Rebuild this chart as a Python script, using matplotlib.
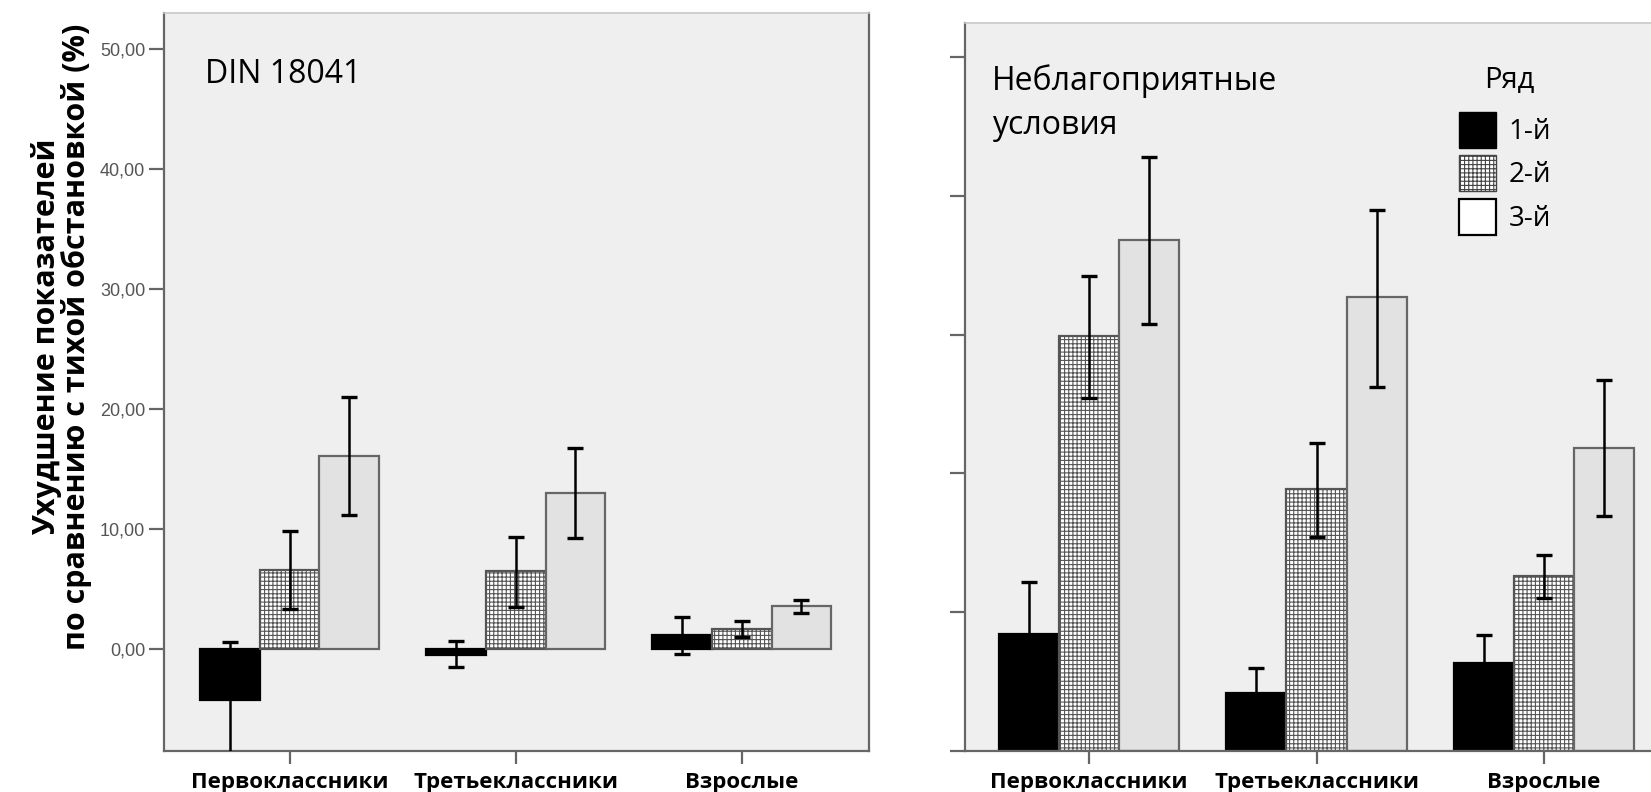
import numpy as np
import matplotlib
matplotlib.use("Agg")
import matplotlib.pyplot as plt
from matplotlib.patches import Patch

plt.rcParams['font.family'] = ['Open Sans', 'DejaVu Sans']
plt.rcParams['hatch.linewidth'] = 0.8
plt.rcParams['hatch.color'] = '#2a2a2a'

groups = ['Первоклассники', 'Третьеклассники', 'Взрослые']
series = ['1-й', '2-й', '3-й']

# левая панель: DIN 18041 (среднее, нижняя и верхняя граница)
din_mean = [[-4.2, -0.45, 1.2], [6.6, 6.5, 1.7], [16.1, 13.05, 3.65]]
din_low = [[-12.0, -1.5, -0.35], [3.35, 3.5, 1.0], [11.2, 9.25, 3.05]]
din_high = [[0.65, 0.7, 2.7], [9.9, 9.4, 2.35], [21.0, 16.75, 4.15]]

# правая панель: неблагоприятные условия
bad_mean = [[8.4, 4.15, 6.3], [29.9, 18.9, 12.6], [36.8, 32.7, 21.8]]
bad_low = [[4.6, 2.3, 4.3], [25.4, 15.4, 11.0], [30.8, 26.2, 16.9]]
bad_high = [[12.2, 5.95, 8.35], [34.2, 22.2, 14.1], [42.8, 39.0, 26.7]]

yticks_left = [0, 10, 20, 30, 40, 50]
yticks_right = [0, 10, 20, 30, 40, 50]

faces = ['black', 'white', '#e2e2e2']
edges = ['black', '#555555', '#666666']
hatches = [None, '++++', None]
w = 0.264

fig = plt.figure(figsize=(16.51, 7.92), dpi=100)
ax1 = fig.add_axes([164 / 1651, 1 - 750.7 / 792, (868.7 - 164) / 1651, (750.7 - 13.3) / 792])
ax2 = fig.add_axes([965 / 1651, 1 - 750.7 / 792, (1651 - 965) / 1651, (750.7 - 22.7) / 792])


def draw(ax, mean, low, high):
    x = np.arange(len(groups))
    for i in range(3):
        m = np.array(mean[i])
        err = np.array([m - np.array(low[i]), np.array(high[i]) - m])
        ax.bar(x + (i - 1) * w, m, w, color=faces[i], edgecolor=edges[i],
               linewidth=1.6, hatch=hatches[i], zorder=2)
        ax.errorbar(x + (i - 1) * w, m, yerr=err, fmt='none', ecolor='black',
                    elinewidth=1.8, capsize=5.5, capthick=2.4, zorder=3)
    ax.set_xticks(x)
    ax.set_xticklabels(groups, fontsize=16, fontweight='bold')
    ax.set_facecolor('#efefef')
    for s in ['left', 'bottom', 'right']:
        ax.spines[s].set_color('#666666')
        ax.spines[s].set_linewidth(1.6)
    ax.spines['top'].set_color('#c8c8c8')
    ax.spines['top'].set_linewidth(1.2)
    ax.tick_params(axis='both', length=10.5, width=1.6, color='#666666', pad=3)
    ax.tick_params(axis='x', length=9, pad=6)


draw(ax1, din_mean, din_low, din_high)
ax1.set_xlim(-0.556, 2.562)
ax1.set_ylim(-8.45, 53.0)
ax1.set_yticks(yticks_left)
ax1.set_yticklabels([f'{v:.2f}'.replace('.', ',') for v in yticks_left],
                    fontsize=13, color='#555555', family='Liberation Sans')
ax1.set_ylabel('Ухудшение показателей\nпо сравнению с тихой обстановкой (%)',
               fontsize=22, fontweight='bold', linespacing=0.95, labelpad=6)
ax1.yaxis.label.set_y(0.561)
ax1.text(0.058, 0.917, 'DIN 18041', transform=ax1.transAxes, fontsize=23,
         va='center', ha='left')

draw(ax2, bad_mean, bad_low, bad_high)
ax2.set_xlim(-0.545, 2.47)
ax2.set_ylim(0, 52.5)
ax2.set_yticks(yticks_right)
ax2.set_yticklabels([])
ax2.spines['right'].set_visible(False)
ax2.text(0.039, 0.943, 'Неблагоприятные\nусловия', transform=ax2.transAxes,
         fontsize=23, va='top', ha='left', linespacing=1.45)

# легенда
ax2.text(0.794, 0.921, 'Ряд', transform=ax2.transAxes, fontsize=21,
         ha='center', va='center')
handles = [Patch(facecolor='black', edgecolor='black'),
           Patch(facecolor='white', edgecolor='#444444', hatch='++++'),
           Patch(facecolor='white', edgecolor='black', linewidth=1.6)]
leg = ax2.legend(handles, series, loc='upper left',
                 bbox_to_anchor=(0.72, 0.878), frameon=False, fontsize=20,
                 handlelength=1.33, handleheight=1.62,
                 handletextpad=0.45, labelspacing=0.28, borderpad=0,
                 borderaxespad=0)

fig.savefig('out.png', dpi=100, facecolor='white')
